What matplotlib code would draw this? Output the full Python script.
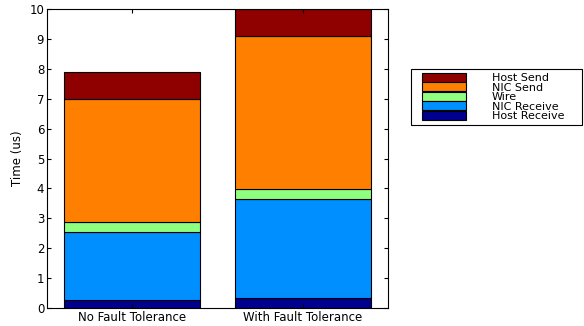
import numpy as np
import matplotlib.pyplot as plt
from matplotlib.patches import Rectangle

# latency breakdown per configuration (us), stacked bottom to top
configs = ['No Fault Tolerance', 'With Fault Tolerance']
host_receive = [0.27, 0.35]
nic_receive = [2.26, 3.30]
wire = [0.34, 0.33]
nic_send = [4.12, 5.12]
host_send = [0.89, 0.90]

parts = ['Host Receive', 'NIC Receive', 'Wire', 'NIC Send', 'Host Send']
colors = ['#00008f', '#008fff', '#8fff80', '#ff8000', '#8f0000']

plt.rcParams['font.family'] = ['DejaVu Sans']
W, H = 584, 326

fig = plt.figure(figsize=(W / 100, H / 100), dpi=100)
ax = fig.add_axes([47 / W, 18 / H, 341 / W, 299 / H])

x = np.arange(1, len(configs) + 1)
bottom = np.zeros(len(configs))
handles = []
for name, vals, c in zip(parts, [host_receive, nic_receive, wire, nic_send, host_send], colors):
    h = ax.bar(x, vals, 0.8, bottom=bottom, color=c, edgecolor='black', linewidth=0.8, label=name)
    handles.append(h)
    bottom += np.array(vals)

ax.set_xlim(0.5, 2.5)
ax.set_ylim(0, 10)
ax.set_xticks(x, configs)
ax.set_yticks(np.arange(0, 11, 1))
ax.tick_params(direction='in', top=True, right=True, labelsize=8.5, length=3, pad=2)
ax.set_ylabel('Time (us)', fontsize=8.5)
for s in ax.spines.values():
    s.set_linewidth(0.8)

# legend entries without frame, box drawn separately
fs = 8
leg = fig.legend(handles[::-1], parts[::-1], loc='upper left',
                 bbox_to_anchor=(422 / W, 1 - 73 / H), borderaxespad=0, borderpad=0,
                 fontsize=fs, handlelength=4.0, handleheight=0.86, labelspacing=-0.08,
                 handletextpad=2.3, frameon=False)
fig.patches.append(Rectangle((411 / W, 1 - 125 / H), 171 / W, 56 / H,
                             transform=fig.transFigure, fill=False,
                             edgecolor='black', linewidth=0.8))

fig.savefig('out.png', dpi=100)
